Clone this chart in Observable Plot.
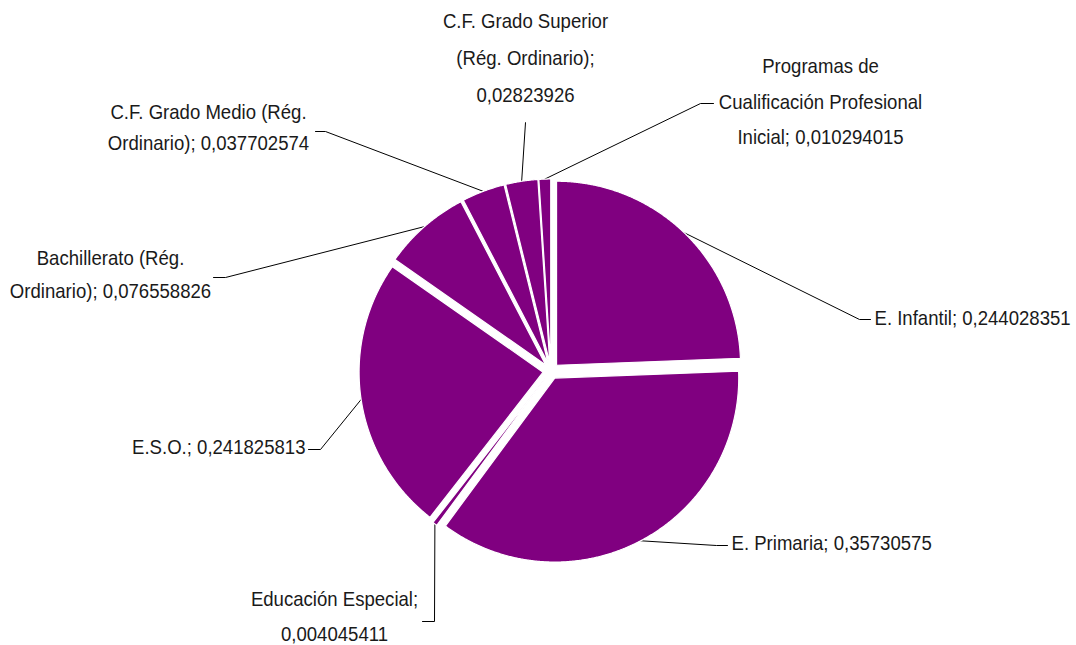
<!DOCTYPE html>
<html><head><meta charset="utf-8">
<script src="https://cdn.jsdelivr.net/npm/d3@7"></script>
<script src="https://cdn.jsdelivr.net/npm/@observablehq/plot@0.6"></script>
<style>html,body{margin:0;padding:0;background:#fff}#chart svg{display:block}</style>
</head><body><div id="chart"></div>
<script>
// ---- data ----
const categories = [
  "E. Infantil",
  "E. Primaria",
  "Educación Especial",
  "E.S.O.",
  "Bachillerato (Rég. Ordinario)",
  "C.F. Grado Medio (Rég. Ordinario)",
  "C.F. Grado Superior (Rég. Ordinario)",
  "Programas de Cualificación Profesional Inicial"
];
const values = [0.244028351, 0.35730575, 0.004045411, 0.241825813, 0.076558826, 0.037702574, 0.02823926, 0.010294015];
const valueLabels = ["0,244028351", "0,35730575", "0,004045411", "0,241825813", "0,076558826", "0,037702574", "0,02823926", "0,010294015"];
// how each "category; value" label wraps in the reference
const labelBreaks = [
  [],
  [],
  ["Educación Especial;"],
  [],
  ["Bachillerato (Rég."],
  ["C.F. Grado Medio (Rég."],
  ["C.F. Grado Superior", "(Rég. Ordinario);"],
  ["Programas de", "Cualificación Profesional"]
];

// ---- layout (pixels) ----
const cx = 550.5, cy = 370.5, R = 184, explode = 8;
const purple = "#800080";
const fontFamily = "'Liberation Sans',Arial,sans-serif";
const condense = 0.885;
const labelLayout = [
  {elbow: [859, 319], end: [870, 319], text: [874, 318], anchor: "start", lh: 0},
  {elbow: [716, 545], end: [727, 545], text: [731, 543], anchor: "start", lh: 0},
  {elbow: [434, 621], end: [422, 621], text: [334, 616.5], anchor: "middle", lh: 35},
  {elbow: [320, 449], end: [308, 449], text: [305, 447], anchor: "end", lh: 0},
  {elbow: [225, 277], end: [213, 277], text: [110, 274.5], anchor: "middle", lh: 33},
  {elbow: [325, 131], end: [315, 131], text: [208, 127.5], anchor: "middle", lh: 31},
  {elbow: [525, 122], end: [525, 122], text: [525, 58], anchor: "middle", lh: 37},
  {elbow: [700, 103], end: [713, 103], text: [820, 101.5], anchor: "middle", lh: 35.5}
];

// ---- build geometry from data ----
const arcs = d3.pie().sort(null).value(d => d)(values);
const slicePts = [];
const leaderPts = [];
const textRows = [];
arcs.forEach((a, i) => {
  const mid = (a.startAngle + a.endAngle) / 2;
  const ox = cx + explode * Math.sin(mid), oy = cy - explode * Math.cos(mid);
  const name = categories[i];
  slicePts.push({name, x: ox, y: oy});
  const n = Math.max(2, Math.ceil((a.endAngle - a.startAngle) / 0.005));
  for (let k = 0; k <= n; k++) {
    const t = a.startAngle + (a.endAngle - a.startAngle) * k / n;
    slicePts.push({name, x: ox + R * Math.sin(t), y: oy - R * Math.cos(t)});
  }
  const L = labelLayout[i];
  leaderPts.push({name, x: ox + R * Math.sin(mid), y: oy - R * Math.cos(mid)});
  leaderPts.push({name, x: L.elbow[0], y: L.elbow[1]});
  leaderPts.push({name, x: L.end[0], y: L.end[1]});
  const full = `${name}; ${valueLabels[i]}`;
  const lines = [];
  let rest = full;
  for (const b of labelBreaks[i]) { lines.push(b); rest = rest.slice(b.length).trimStart(); }
  lines.push(rest);
  lines.forEach((t, j) => {
    textRows.push({text: t, x: L.text[0], y: L.text[1] + (j - (lines.length - 1) / 2) * L.lh, anchor: L.anchor});
  });
});

const textMark = anchor => Plot.text(textRows.filter(d => d.anchor === anchor), {
  x: "x", y: "y", text: "text", textAnchor: anchor, lineAnchor: "middle",
  fontSize: 21, fontFamily, fill: "#1a1a1a"
});

const chart = Plot.plot({
  width: 1076, height: 645, margin: 0,
  x: {domain: [0, 1076], range: [0, 1076], axis: null},
  y: {domain: [0, 645], range: [0, 645], axis: null},
  style: {background: "#fff", fontFamily},
  marks: [
    Plot.line(leaderPts, {x: "x", y: "y", z: "name", stroke: "#000", strokeWidth: 1}),
    Plot.line(slicePts, {x: "x", y: "y", z: "name", fill: purple, stroke: "#fff", strokeWidth: 1.2, curve: "linear-closed"}),
    textMark("start"), textMark("middle"), textMark("end")
  ]
});
document.getElementById("chart").appendChild(chart);
// condense the labels horizontally (about their anchor), like the narrow face of the original
chart.querySelectorAll("text").forEach(t => {
  const x = +(t.getAttribute("x") || 0);
  const prev = t.getAttribute("transform") || "";
  t.setAttribute("transform", `${prev} translate(${x},0) scale(${condense},1) translate(${-x},0)`.trim());
});
</script>
</body></html>
